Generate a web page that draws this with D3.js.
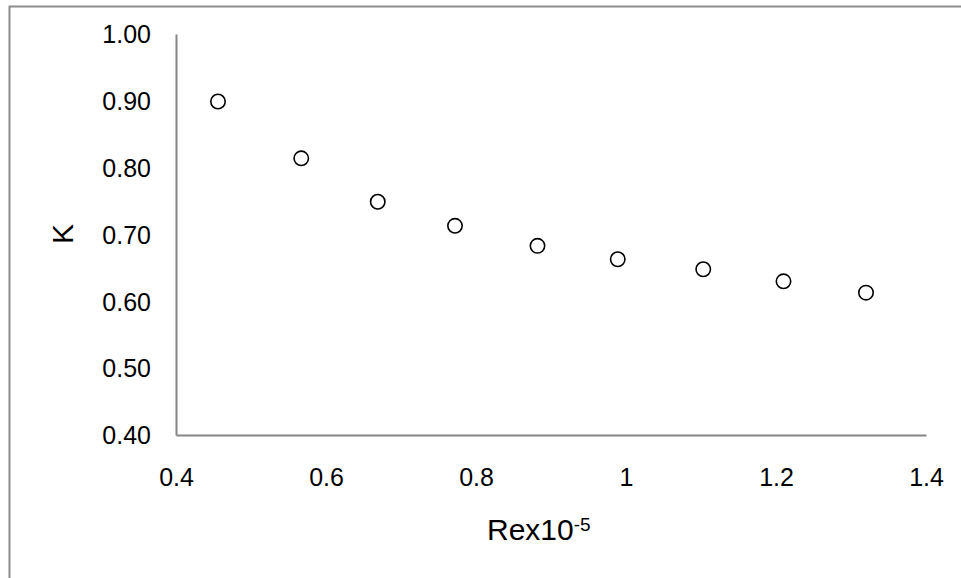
<!DOCTYPE html>
<html lang="en">
<head>
<meta charset="utf-8">
<title>K vs Re</title>
<script src="https://cdn.jsdelivr.net/npm/d3@7/dist/d3.min.js"></script>
<style>
  body{margin:0;background:#fff;}
  svg{display:block;font-family:"Liberation Sans",Arial,sans-serif;}
  .axis path{stroke:#868686;stroke-width:2px;}
  .axis line{display:none;}
  .axis text{font-size:25px;fill:#000;font-family:"Liberation Sans",Arial,sans-serif;}
</style>
</head>
<body>
<svg></svg>
<script>
// Rex10^-5 values and K values
var rex = [0.456, 0.567, 0.669, 0.772, 0.882, 0.989, 1.103, 1.210, 1.320];
var kVals = [0.899, 0.814, 0.749, 0.713, 0.683, 0.663, 0.648, 0.630, 0.613];
var xTicks = [0.4, 0.6, 0.8, 1, 1.2, 1.4];
var yTicks = [0.40, 0.50, 0.60, 0.70, 0.80, 0.90, 1.00];

var width = 961, height = 578;
var svg = d3.select("svg").attr("width", width).attr("height", height);

// outer chart border (runs off the right and bottom edge)
svg.append("rect")
   .attr("x", 9.5).attr("y", 6.5)
   .attr("width", 1000).attr("height", 1000)
   .attr("fill", "none")
   .attr("stroke", "#8c8c8c")
   .attr("stroke-width", 2);

var xscale = d3.scaleLinear().domain([0.4, 1.4]).range([176, 926]);
var yscale = d3.scaleLinear().domain([0.4, 1.0]).range([435, 34]);

var xAxis = d3.axisBottom(xscale)
              .tickValues(xTicks)
              .tickSize(0)
              .tickPadding(51)
              .tickFormat(d3.format("~g"));
var yAxis = d3.axisLeft(yscale)
              .tickValues(yTicks)
              .tickSize(0)
              .tickPadding(25)
              .tickFormat(d3.format(".2f"));

svg.append("g")
   .attr("class", "axis")
   .attr("transform", "translate(0,435)")
   .call(xAxis)
   .call(function(g){ g.selectAll("text").attr("dy", 0); });

svg.append("g")
   .attr("class", "axis")
   .attr("transform", "translate(176,0)")
   .call(yAxis)
   .call(function(g){ g.selectAll("text").attr("dy", "0.35em"); });

// markers
svg.selectAll("circle.pt")
   .data(rex)
   .enter()
   .append("circle")
   .attr("class", "pt")
   .attr("cx", function(d){ return xscale(d); })
   .attr("cy", function(d, i){ return yscale(kVals[i]); })
   .attr("r", 7.2)
   .attr("fill", "#fff")
   .attr("stroke", "#000")
   .attr("stroke-width", 1.6);

// axis titles
var xt = svg.append("text")
   .attr("x", 487)
   .attr("y", 540)
   .attr("font-size", 30)
   .attr("fill", "#000");
xt.append("tspan").text("Rex10");
xt.append("tspan").attr("font-size", 19).attr("dy", -9).text("-5");

svg.append("text")
   .attr("transform", "translate(73,234) rotate(-90)")
   .attr("text-anchor", "middle")
   .attr("font-size", 30)
   .attr("fill", "#000")
   .text("K");
</script>
</body>
</html>
